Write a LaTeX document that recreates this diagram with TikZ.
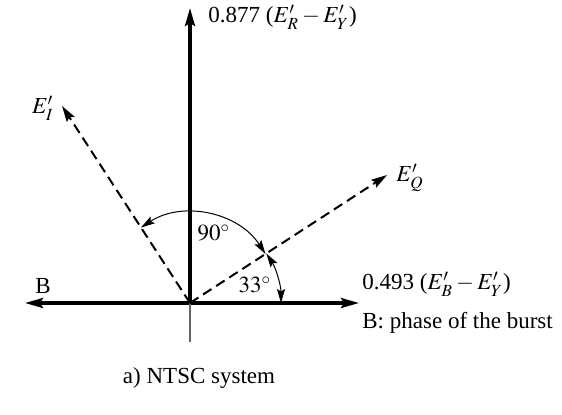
\documentclass[tikz,border=0pt]{standalone}
\usepackage{mathptmx}
\usepackage{fontspec}
\setmainfont{Liberation Serif}
\usepackage{tikz}
\usetikzlibrary{arrows.meta,positioning,calc}

\begin{document}
\begin{tikzpicture}[x=0.5pt, y=0.5pt, font=\fontsize{11.5}{13}\selectfont,
    axis/.style={line width=1.6pt, -{Stealth[length=9pt,width=5pt,inset=1.5pt]}},
    vect/.style={line width=1pt, dash pattern=on 5pt off 2.8pt, -{Stealth[length=8pt,width=4.6pt,inset=1.3pt]}},
    angarc/.style={line width=0.5pt, {Stealth[length=7pt,width=4pt,inset=1.2pt]}-{Stealth[length=7pt,width=4pt,inset=1.2pt]}},
    lbl/.style={inner sep=1pt}]
    \useasboundingbox (0,0) rectangle (562,414);

    % Origin and axis ends
    \coordinate (O) at (190,111);
    \coordinate (top) at (190,406);
    \coordinate (left) at (25,111);
    \coordinate (right) at (359,111);
    \coordinate (foot) at (190,72);
    \coordinate (I) at ($(O)+(123:235)$);
    \coordinate (Q) at ($(O)+(33:235)$);

    % Axes
    \draw[axis] (O) -- (top);
    \draw[axis] (O) -- (left);
    \draw[axis] (O) -- (right);
    \draw[line width=0.6pt, black!60] (O) -- (foot);

    % I and Q vectors
    \draw[vect] (O) -- (I);
    \draw[vect] (O) -- (Q);

    % Angle arcs
    \draw[angarc] ($(O)+(123:45pt)$) arc[start angle=123, end angle=33, radius=45pt];
    \draw[angarc] ($(O)+(33:45.5pt)$) arc[start angle=33, end angle=0, radius=45.5pt];

    % Labels
    \node[lbl, anchor=west] (Rlab) at (206,397) {0.877 ($E'_R - E'_Y$)};
    \node[lbl, anchor=west] (Blab) at (360,130) {0.493 ($E'_B - E'_Y$)};
    \node[lbl, anchor=west] (burst) at (360,91) {B: phase of the burst};
    \node[lbl, anchor=west] (Qlab) at (394,236) {$E'_Q$};
    \node[lbl, anchor=east] (Ilab) at (56,306) {$E'_I$};
    \node[lbl] (B) at (43,128) {B};
    \node[lbl] (ninety) at (214,181) {$90^\circ$};
    \node[lbl] (thirty) at (255,129) {$33^\circ$};
    \node[lbl] (caption) at (199,36) {a) NTSC system};
\end{tikzpicture}
\end{document}
